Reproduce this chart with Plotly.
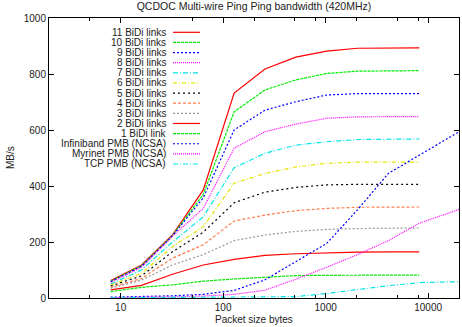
import math
import plotly.graph_objects as go

# packet sizes (bytes)
sizes = [8, 16, 32, 64, 128, 256, 512, 1024, 2048, 4096, 8192]
pmb_sizes = [8, 16, 32, 64, 128, 256, 512, 1024, 2048, 4096, 8192, 16384, 32768]

# QCDOC bandwidth, MB/s
bidi11 = [62, 118, 225, 386, 732, 818, 860, 882, 892, 893, 893]
bidi10 = [60, 115, 223, 370, 665, 743, 779, 802, 810, 812, 812]
bidi9 = [58, 113, 222, 358, 600, 671, 701, 725, 730, 730, 730]
bidi8 = [56, 110, 220, 320, 535, 594, 621, 642, 647, 648, 648]
bidi7 = [50, 100, 200, 290, 465, 517, 546, 558, 566, 568, 568]
bidi6 = [46, 88, 183, 255, 410, 445, 468, 481, 485, 485, 485]
bidi5 = [43, 79, 165, 235, 340, 378, 395, 404, 406, 406, 406]
bidi4 = [38, 70, 142, 190, 275, 296, 312, 320, 324, 325, 325]
bidi3 = [35, 64, 118, 155, 205, 225, 238, 245, 248, 249, 250]
bidi2 = [29, 45, 85, 118, 138, 152, 158, 162, 164, 165, 165]
bidi1 = [23, 38, 47, 60, 68, 75, 80, 81, 82, 82, 82]

# other networks
infiniband = [3, 5, 8, 13, 27, 65, 130, 195, 315, 445, 510, 575, 640]
myrinet = [1, 2, 4, 7, 13, 28, 67, 110, 155, 205, 267, 305, 345]
tcp = [0.5, 1, 1, 1.5, 2, 3, 5, 16, 30, 44, 55, 58, 60]

names = ["11 BiDi links", "10 BiDi links", "9 BiDi links", "8 BiDi links",
         "7 BiDi links", "6 BiDi links", "5 BiDi links", "4 BiDi links",
         "3 BiDi links", "2 BiDi links", "1 BiDi link",
         "Infiniband PMB (NCSA)", "Myrinet PMB (NCSA)", "TCP PMB (NCSA)"]

x_ticks = [10, 100, 1000, 10000]
x_minor = [5, 50, 200, 500, 800, 2000, 5000, 8000]
y_ticks = [0, 200, 400, 600, 800, 1000]

series = [(sizes, bidi11), (sizes, bidi10), (sizes, bidi9), (sizes, bidi8),
          (sizes, bidi7), (sizes, bidi6), (sizes, bidi5), (sizes, bidi4),
          (sizes, bidi3), (sizes, bidi2), (sizes, bidi1),
          (pmb_sizes, infiniband), (pmb_sizes, myrinet), (pmb_sizes, tcp)]

colors = ["#ff0000", "#00ee00", "#0000ff", "#ff00ff", "#00e5e5", "#e5e500",
          "#000000", "#ff7f50", "#999999",
          "#ff0000", "#00ee00", "#0000ff", "#ff00ff", "#00e5e5"]
dashes = ["solid", "3px,1px", "2px,2px", "1px,1px", "5px,2px,1px,2px",
          "4px,2px,1px,2px", "2px,3px", "3px,2px", "2px,2px",
          "solid", "3px,1px", "2px,2px", "1px,1px", "5px,2px,1px,2px"]

fig = go.Figure()
for (xs, ys), c, d, n in zip(series, colors, dashes, names):
    fig.add_trace(go.Scatter(x=xs, y=ys, mode="lines", name=n,
                             line=dict(color=c, dash=d, width=1.2)))

# gnuplot-style key: text right aligned, sample on the right
shapes = []
annotations = []
row0 = 32.3
row_gap = 10.13
for i, (c, d, n) in enumerate(zip(colors, dashes, names)):
    py = (298 - (row0 + i * row_gap)) / 280
    annotations.append(dict(x=(168 - 49) / 410, y=py, xref="paper", yref="paper",
                            text=n, showarrow=False, xanchor="right", yanchor="middle",
                            font=dict(size=10, color="#222")))
    shapes.append(dict(type="line", xref="paper", yref="paper",
                       x0=(173 - 49) / 410, x1=(200 - 49) / 410, y0=py, y1=py,
                       line=dict(color=c, dash=d, width=1.2)))

annotations.append(dict(x=(10 - 49) / 410, y=0.5, xref="paper", yref="paper",
                        text="MB/s", textangle=-90, showarrow=False,
                        xanchor="center", yanchor="middle", font=dict(size=10, color="#222")))
annotations.append(dict(x=0.5, y=(298 - 319) / 280, xref="paper", yref="paper",
                        text="Packet size bytes", showarrow=False,
                        xanchor="center", yanchor="middle", font=dict(size=10, color="#222")))

fig.update_layout(
    width=462, height=327,
    margin=dict(l=49, r=3, t=18, b=29),
    paper_bgcolor="white", plot_bgcolor="white",
    font=dict(family="Liberation Sans, Arial, sans-serif", size=10, color="#222"),
    title=dict(text="QCDOC Multi-wire Ping Ping bandwidth (420MHz)", x=0.5, xref="paper",
               y=1 - 6 / 327, yanchor="middle", font=dict(size=10.5, color="#222")),
    showlegend=False,
    shapes=shapes,
    annotations=annotations,
)
fig.update_xaxes(type="log", range=[math.log10(2), math.log10(20000)],
                 tickmode="array", tickvals=x_ticks, ticktext=[str(v) for v in x_ticks],
                 ticks="inside", ticklen=5, tickcolor="#000", showgrid=False, zeroline=False,
                 showline=True, linecolor="#000", linewidth=1, mirror="ticks",
                 minor=dict(tickvals=x_minor, ticks="inside", ticklen=3, tickcolor="#000",
                            showgrid=False))
fig.update_yaxes(range=[0, 1000], tickmode="array", tickvals=y_ticks,
                 ticks="inside", ticklen=5, tickcolor="#000", showgrid=False, zeroline=False,
                 showline=True, linecolor="#000", linewidth=1, mirror="ticks")

fig.write_html("out.html", config={"displayModeBar": False},
               post_script="document.body.style.margin='0';")
